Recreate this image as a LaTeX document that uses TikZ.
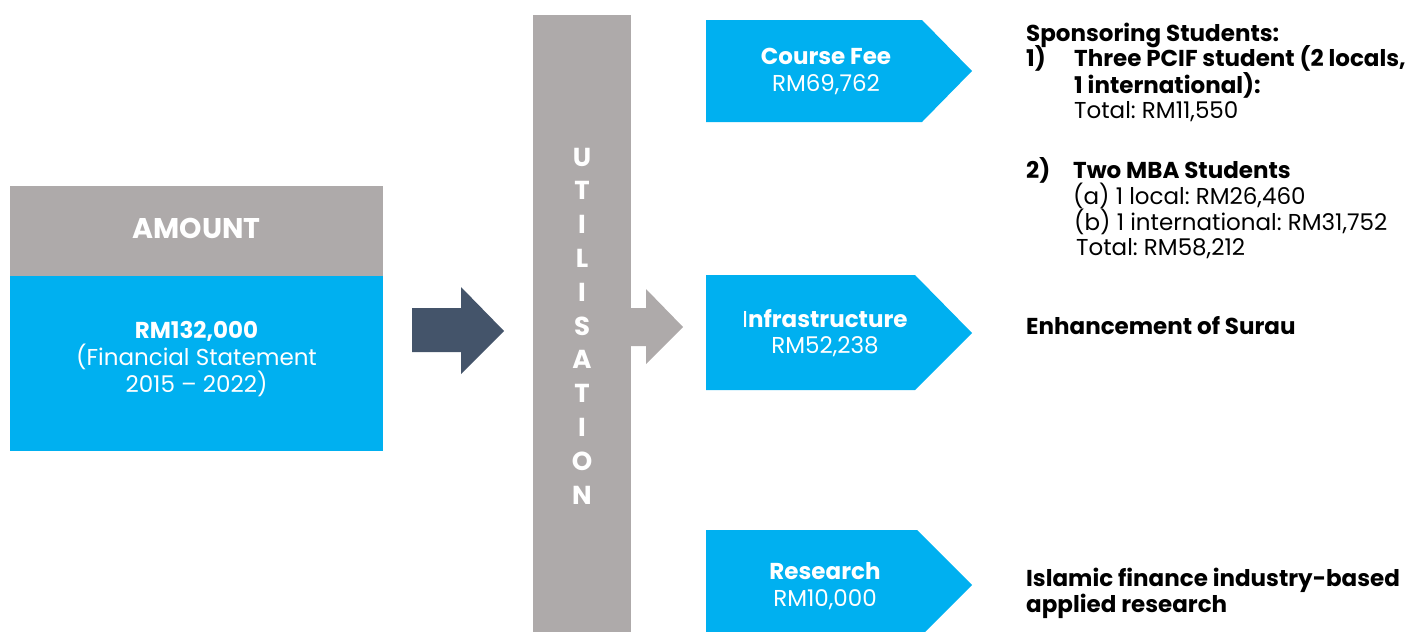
\documentclass[tikz,border=0pt]{standalone}
\usepackage{fontspec}
\setmainfont{Poppins}
\definecolor{cblue}{HTML}{00B0F0}
\definecolor{cgray}{HTML}{AEAAAA}
\definecolor{cdark}{HTML}{44546A}
\begin{document}
\frenchspacing
\begin{tikzpicture}[x=1pt,y=-1pt,
  wt/.style={inner sep=0pt, text=white, anchor=base},
  rt/.style={inner sep=0pt, text=black, anchor=base west, font=\fontsize{23}{28}\selectfont},
  rtb/.style={rt, font=\bfseries\fontsize{23}{28}\selectfont},
  boxt/.style={wt, font=\fontsize{23}{28}\selectfont},
  boxb/.style={wt, font=\bfseries\fontsize{23}{28}\selectfont},
  colt/.style={wt, font=\bfseries\fontsize{26}{30}\selectfont}]
\useasboundingbox (0,0) rectangle (1409,632);
% amount box
\fill[cgray] (10,186) rectangle (383,276);
\fill[cblue] (10,276) rectangle (383,451);
\node[wt, font=\bfseries\fontsize{28.5}{32}\selectfont] (amount) at (196.5,238) {AMOUNT};
\node[wt, font=\bfseries\fontsize{23}{28}\selectfont] (rm) at (196.5,338) {RM132,000};
\node[wt, font=\fontsize{23}{28}\selectfont] (fs1) at (196.5,365) {(Financial Statement};
\node[wt, font=\fontsize{23}{28}\selectfont] (fs2) at (196.5,392) {2015 -- 2022)};
% dark arrow
\fill[cdark] (412,308) -- (461,308) -- (461,287) -- (504,331) -- (461,374) -- (461,352) -- (412,352) -- cycle;
% utilisation column
\fill[cgray] (533,15) rectangle (631,632);
\fill[cgray] (631,308) -- (646,308) -- (646,289) -- (683,327) -- (646,364) -- (646,346) -- (631,346) -- cycle;
\foreach \l [count=\i from 0] in {U,T,I,L,I,S,A,T,I,O,N}
  \node[colt] (c\i) at (582,{166+33.8*\i}) {\l};
% blue pointer boxes
\fill[cblue] (706,20) -- (922,20) -- (972,71) -- (922,122) -- (706,122) -- cycle;
\fill[cblue] (706,275) -- (915,275) -- (972,333) -- (915,390) -- (706,390) -- cycle;
\begin{scope}
\clip (0,0) rectangle (1409,632);
\fill[cblue] (706,530) -- (917,530) -- (972,585) -- (917,640) -- (706,640) -- cycle;
\end{scope}
\node[boxb] (cf) at (826,64) {Course Fee};
\node[boxt] (cfv) at (826,91) {RM69,762};
\node[boxb] (inf) at (825,327) {{\mdseries I}nfrastructure};
\node[boxt] (infv) at (825,353) {RM52,238};
\node[boxb] (res) at (825,579) {Research};
\node[boxt] (resv) at (825,606) {RM10,000};
% right texts
\node[rtb] (sp) at (1026,41) {Sponsoring Students:};
\node[rtb] (n1) at (1026,66) {1)};
\node[rtb] (n1a) at (1074,66) {Three PCIF student (2 locals,};
\node[rtb] (n1b) at (1074,93) {1 international):};
\node[rt] (n1c) at (1074,118) {Total: RM11,550};
\node[rtb] (n2) at (1026,178) {2)};
\node[rtb] (n2a) at (1073,178) {Two MBA Students};
\node[rt] (n2b) at (1073,204) {(a) 1 local: RM26,460};
\node[rt] (n2c) at (1074,230) {(b) 1 international: RM31,752};
\node[rt] (n2d) at (1076,255) {Total: RM58,212};
\node[rtb] (enh) at (1026,334) {Enhancement of Surau};
\node[rtb] (isl) at (1026,586) {Islamic finance industry-based};
\node[rtb] (app) at (1026,612) {applied research};
\end{tikzpicture}
\end{document}
